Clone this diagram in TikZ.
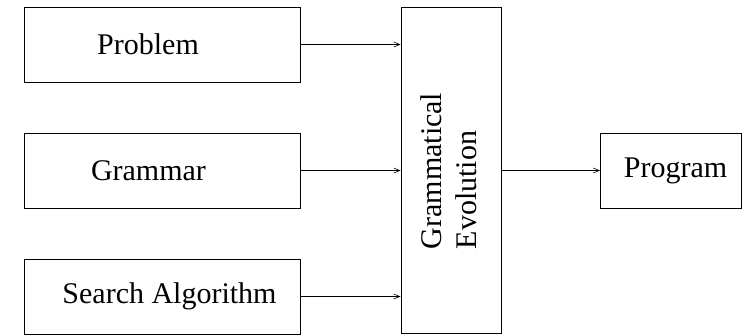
\documentclass[tikz,border=0pt]{standalone}
\usepackage{fontspec}
\setmainfont{Liberation Serif}
\usetikzlibrary{arrows.meta}

\tikzset{
  blk/.style={draw, line width=0.9pt, minimum width=276pt, minimum height=75pt, inner sep=0pt},
  arr/.style={-{Straight Barb[length=6pt,width=5pt,line width=0.6pt]}, line width=0.8pt}
}

\begin{document}
\begin{tikzpicture}[x=1pt,y=-1pt,font=\fontsize{30}{35}\selectfont]
\useasboundingbox (0,0) rectangle (742,335);

%inputs
\node [blk, label={[xshift=-14pt]center:Problem}] (prob) at (162,44.5) {};
\node [blk, label={[xshift=-13.5pt]center:Grammar}] (gram) at (162,170.5) {};
\node [blk, label={[xshift=7.5pt]center:Search Algorithm}] (srch) at (162,296.5) {};

%GE
\node [blk, minimum width=100pt, minimum height=326pt] (ge) at (451,170) {};
\node [rotate=90, align=left, inner sep=0pt] (getxt) at (449,171) {Grammatical\\Evolution};

%output
\node [blk, minimum width=141pt, label={[xshift=4.5pt]center:Program}] (prog) at (671,170.5) {};

%arrows
\draw [arr] (prob.east) -- (prob.east -| ge.west);
\draw [arr] (gram.east) -- (gram.east -| ge.west);
\draw [arr] (srch.east) -- (srch.east -| ge.west);
\draw [arr] (ge.east |- prog.west) -- (prog.west);
\end{tikzpicture}
\end{document}
